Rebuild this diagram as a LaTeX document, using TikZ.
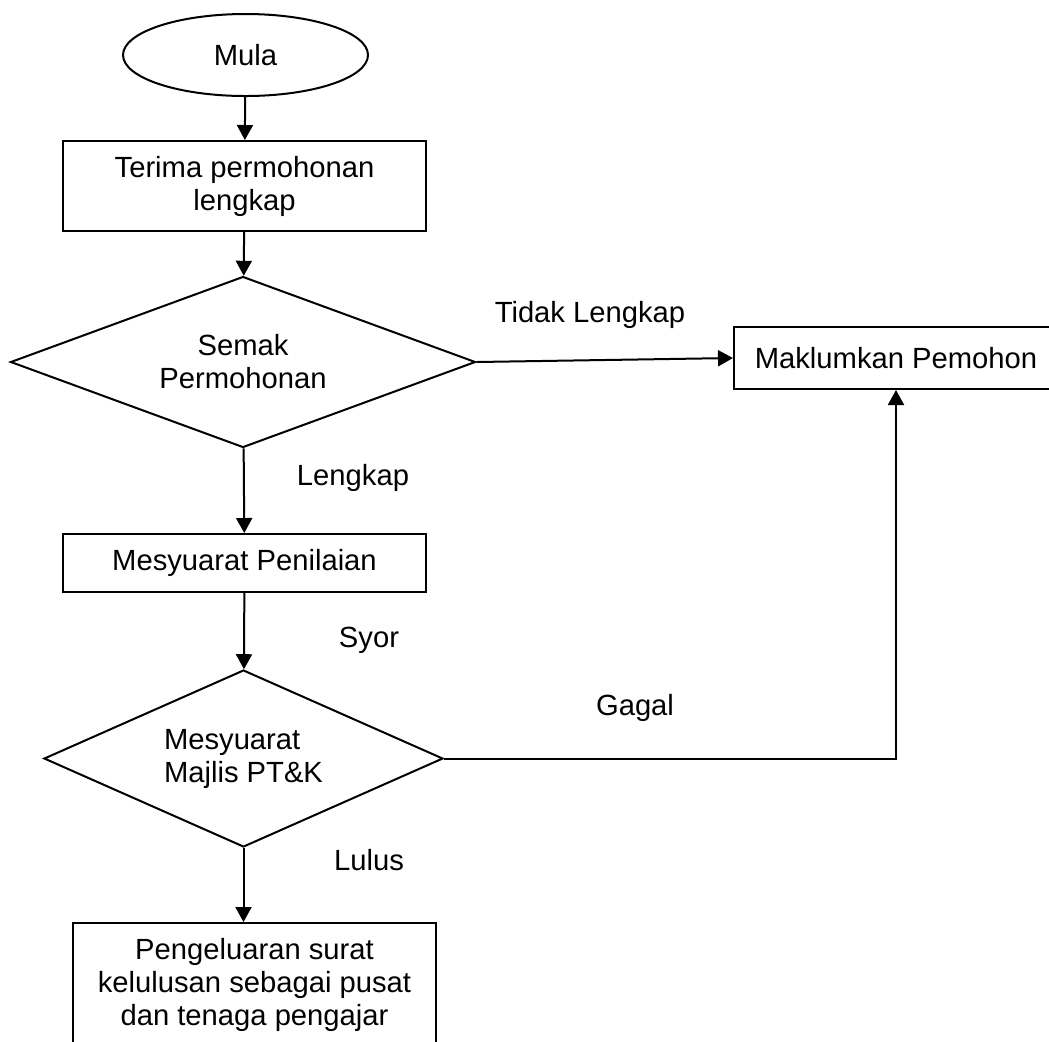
\documentclass[tikz,border=0pt]{standalone}
\usepackage{fontspec}
\setmainfont{Liberation Sans}
\usetikzlibrary{shapes.geometric,arrows.meta}

\tikzset{
    kotak/.style={draw, thick, rectangle, inner sep=0pt, align=center},
    semak/.style={draw, thick, diamond, inner sep=0pt},
    anak/.style={-{Triangle[length=7.5pt,width=8pt]}, thick}
}

\begin{document}
\begin{tikzpicture}[x=0.5pt, y=-0.5pt, font=\fontsize{14.6}{16.5}\selectfont, thick/.style={line width=1pt}]
        \useasboundingbox (0,0) rectangle (1049,1041);
        \clip (0,0) rectangle (1049,1041);

        % kotak dan keputusan
        \node[draw, thick, ellipse, inner sep=0pt, minimum width=122.5pt, minimum height=41pt] (mula) at (245.5,55) {Mula};
        \node[kotak, minimum width=181.5pt, minimum height=45pt] (terima) at (244.5,186) {Terima permohonan\\lengkap};
        \node[semak, aspect=2.72, minimum width=232.5pt, minimum height=85.5pt, align=center] (semakan) at (243,362) {Semak\\Permohonan};
        \node[kotak, minimum width=162pt, minimum height=31pt] (maklum) at (896,358) {Maklumkan Pemohon};
        \node[kotak, minimum width=181.5pt, minimum height=29pt] (nilai) at (244.5,563) {Mesyuarat Penilaian};
        \node[semak, aspect=2.25, minimum width=199.5pt, minimum height=88.5pt, align=left] (majlis) at (243.5,758.5) {Mesyuarat\\Majlis PT\&K};
        \node[kotak, minimum width=181.5pt, minimum height=62pt] (keluar) at (254.5,985) {Pengeluaran surat\\kelulusan sebagai pusat\\dan tenaga pengajar};

        % anak panah
        \draw[anak] (mula) -- (terima);
        \draw[anak] (terima) -- (semakan);
        \draw[anak] (semakan.east) -- (maklum.west);
        \draw[anak] (semakan) -- (nilai);
        \draw[anak] (nilai) -- (majlis);
        \draw[anak] (majlis.south) -- (majlis.south |- keluar.north);
        \draw[anak] (majlis.east) -| (maklum.south);

        % label
        \node[anchor=base] (tidak) at (590,322) {Tidak Lengkap};
        \node[anchor=base] (lengkap) at (353,485) {Lengkap};
        \node[anchor=base] (syor) at (369,647) {Syor};
        \node[anchor=base] (gagal) at (635,715) {Gagal};
        \node[anchor=base] (lulus) at (369,870) {Lulus};
    \end{tikzpicture}
\end{document}
